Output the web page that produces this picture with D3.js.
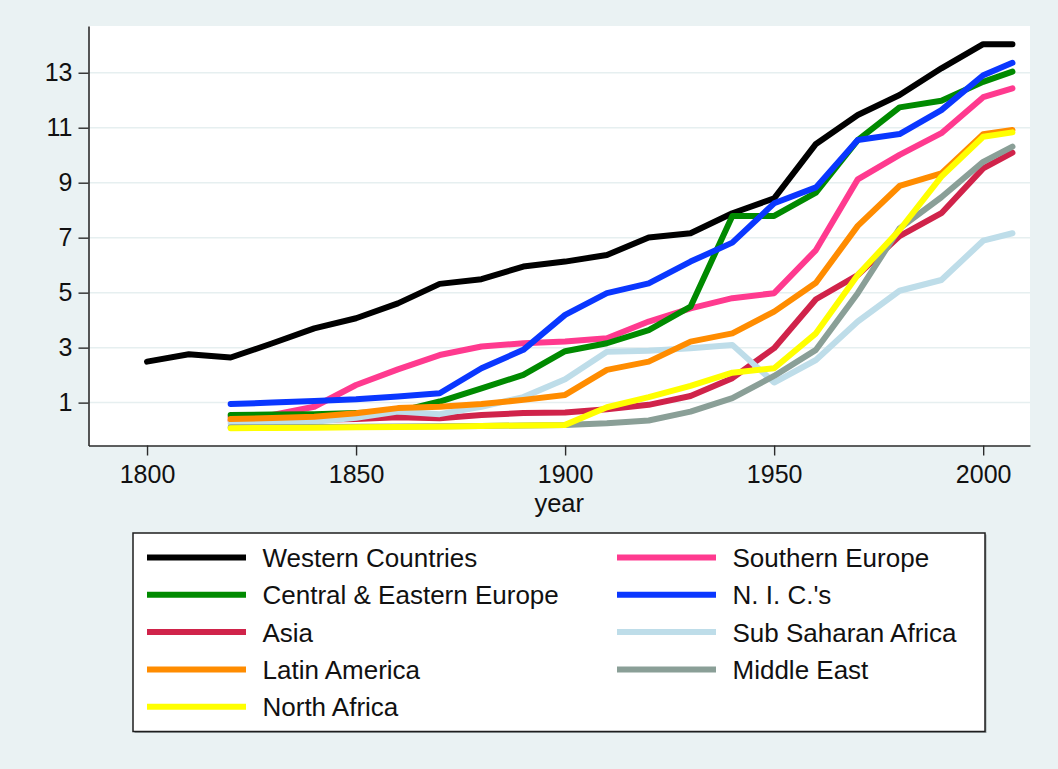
<!DOCTYPE html>
<html>
<head>
<meta charset="utf-8">
<script src="https://cdn.jsdelivr.net/npm/d3@7"></script>
<style>
  body { margin: 0; background: #eaf2f3; }
  text { font-family: "Liberation Sans", Arial, Helvetica, sans-serif; fill: #111; }
</style>
</head>
<body>
<div id="linechart"></div>
<script>
// years on the x axis (Western Countries starts 1800, the rest 1820)
const years = [1800,1810,1820,1830,1840,1850,1860,1870,1880,1890,1900,1910,1920,1930,1940,1950,1960,1970,1980,1990,2000,2007];

const western   = [2.49,2.76,2.64,3.16,3.70,4.07,4.61,5.32,5.49,5.95,6.13,6.37,7.01,7.16,7.89,8.43,10.41,11.46,12.19,13.16,14.04,14.04];
const southernEu = [null,null,0.47,0.55,0.85,1.64,2.21,2.73,3.04,3.16,3.22,3.34,3.95,4.43,4.80,4.98,6.55,9.12,10.01,10.80,12.11,12.43];
const centralEu = [null,null,0.55,0.57,0.58,0.62,0.67,1.04,1.52,2.01,2.87,3.16,3.64,4.49,7.79,7.79,8.64,10.55,11.74,11.98,12.67,13.04];
const nics      = [null,null,0.95,1.00,1.06,1.12,1.22,1.34,2.25,2.92,4.19,4.98,5.34,6.13,6.82,8.25,8.83,10.55,10.77,11.64,12.91,13.36];
const asia      = [null,null,0.35,0.36,0.38,0.40,0.47,0.43,0.55,0.62,0.64,0.76,0.92,1.24,1.89,2.98,4.76,5.64,7.06,7.89,9.52,10.09];
const subSahara = [null,null,0.25,0.27,0.30,0.45,0.68,0.58,0.85,1.20,1.85,2.85,2.89,2.98,3.10,1.73,2.55,3.95,5.07,5.46,6.89,7.16];
const latinAm   = [null,null,0.40,0.44,0.49,0.61,0.80,0.85,0.95,1.10,1.28,2.19,2.49,3.22,3.52,4.31,5.36,7.43,8.88,9.34,10.76,10.92];
const middleEast = [null,null,0.10,0.10,0.11,0.12,0.13,0.14,0.15,0.17,0.19,0.25,0.35,0.67,1.16,1.97,2.92,4.98,7.34,8.47,9.76,10.31];
const northAfrica = [null,null,0.07,0.08,0.09,0.10,0.11,0.12,0.15,0.17,0.19,0.83,1.20,1.61,2.09,2.25,3.52,5.64,7.28,9.22,10.67,10.83];

// legend order (row by row, two columns) = drawing order
const seriesNames = ["Western Countries","Southern Europe","Central & Eastern Europe","N. I. C.'s","Asia","Sub Saharan Africa","Latin America","Middle East","North Africa"];
const seriesValues = [western, southernEu, centralEu, nics, asia, subSahara, latinAm, middleEast, northAfrica];
const seriesColors = ["#000000","#ff3a8f","#008a00","#0a37ff","#d0234a","#bedde9","#ff8c00","#8a9f97","#ffff00"];

const xTicks = [1800,1850,1900,1950,2000];
const yTicks = [1,3,5,7,9,11,13];

var canvasWidth = 1058, canvasHeight = 769;

var svg = d3.select("#linechart").append("svg")
    .attr("width", canvasWidth)
    .attr("height", canvasHeight);

svg.append("rect")
    .attr("width", canvasWidth)
    .attr("height", canvasHeight)
    .attr("fill", "#eaf2f3");

var plot = {left: 88.5, right: 1030, top: 26, bottom: 445.5};

var x = d3.scaleLinear().domain([1786, 2011.2]).range([plot.left, plot.right]),
    y = d3.scaleLinear().domain([-0.56, 14.7]).range([plot.bottom, plot.top]);

// white plot region
svg.append("rect")
    .attr("x", plot.left)
    .attr("y", plot.top)
    .attr("width", plot.right - plot.left)
    .attr("height", plot.bottom - plot.top)
    .attr("fill", "#ffffff");

// gridlines
svg.append("g")
  .selectAll("line")
  .data(yTicks)
  .enter().append("line")
    .attr("x1", plot.left)
    .attr("x2", plot.right)
    .attr("y1", d => y(d))
    .attr("y2", d => y(d))
    .style("stroke", "#e6eff0")
    .style("stroke-width", 1.5);

var line = d3.line()
    .defined(d => d.v != null)
    .x(d => x(d.year))
    .y(d => y(d.v));

var series = seriesNames.map(function(name, i) {
  return {
    id: name,
    color: seriesColors[i],
    values: years.map(function(yr, j) { return {year: yr, v: seriesValues[i][j]}; })
  };
});

svg.append("g")
  .selectAll("path")
  .data(series)
  .enter().append("path")
    .attr("d", d => line(d.values))
    .attr("fill", "none")
    .style("stroke", d => d.color)
    .style("stroke-width", 6)
    .style("stroke-linejoin", "round")
    .style("stroke-linecap", "round");

// axes
var yAxis = svg.append("g")
    .attr("transform", "translate(" + plot.left + ",0)")
    .call(d3.axisLeft(y).tickValues(yTicks).tickSize(10).tickPadding(6).tickSizeOuter(0));

var xAxis = svg.append("g")
    .attr("transform", "translate(0," + plot.bottom + ")")
    .call(d3.axisBottom(x).tickValues(xTicks).tickFormat(d3.format("d")).tickSize(10).tickPadding(9.5).tickSizeOuter(0));

[yAxis, xAxis].forEach(function(a) {
  a.select(".domain").style("stroke", "#2b2b2b").style("stroke-width", 1.6);
  a.selectAll(".tick line").style("stroke", "#2b2b2b").style("stroke-width", 1.4);
  a.selectAll(".tick text")
    .style("font-size", "25px")
    .style("font-family", "'Liberation Sans', Arial, sans-serif")
    .attr("fill", "#111");
});

svg.append("text")
    .attr("x", (plot.left + plot.right) / 2)
    .attr("y", 512)
    .attr("text-anchor", "middle")
    .style("font-size", "25.5px")
    .text("year");

// legend box
var legend = {left: 133, top: 533, right: 985, bottom: 731.5};

svg.append("rect")
    .attr("x", legend.left + 1.5)
    .attr("y", legend.top + 1.5)
    .attr("width", legend.right - legend.left)
    .attr("height", legend.bottom - legend.top)
    .attr("fill", "#9aa3a5");

svg.append("rect")
    .attr("x", legend.left)
    .attr("y", legend.top)
    .attr("width", legend.right - legend.left)
    .attr("height", legend.bottom - legend.top)
    .attr("fill", "#ffffff")
    .style("stroke", "#1e1e1e")
    .style("stroke-width", 1.5);

var colX = [147, 617], rowY0 = 557.5, rowStep = 37.3;

var item = svg.append("g")
  .selectAll("g")
  .data(series)
  .enter().append("g")
    .attr("transform", (d, i) => "translate(" + colX[i % 2] + "," + (rowY0 + Math.floor(i / 2) * rowStep) + ")");

item.append("line")
    .attr("x1", 0)
    .attr("x2", 99)
    .style("stroke", d => d.color)
    .style("stroke-width", 6);

item.append("text")
    .attr("x", 115.5)
    .attr("y", 9.5)
    .style("font-size", "26px")
    .text(d => d.id);
</script>
</body>
</html>
